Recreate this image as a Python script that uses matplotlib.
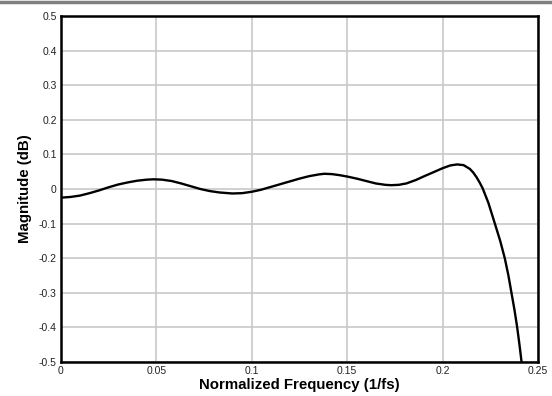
import matplotlib
matplotlib.use("Agg")
import matplotlib.pyplot as plt
from matplotlib.lines import Line2D

# values
freq = [0.0, 0.005, 0.01, 0.015, 0.02, 0.025, 0.03, 0.035, 0.04, 0.045,
        0.0486, 0.053, 0.058, 0.063, 0.068, 0.073, 0.078, 0.083, 0.0898, 0.095,
        0.1, 0.105, 0.11, 0.115, 0.12, 0.125, 0.13, 0.135, 0.138, 0.142,
        0.146, 0.15, 0.155, 0.16, 0.165, 0.17, 0.173, 0.177, 0.181, 0.186,
        0.19, 0.195, 0.2, 0.204, 0.2076, 0.211, 0.2143, 0.216, 0.2178, 0.2195,
        0.221, 0.224, 0.2274, 0.2302, 0.2326, 0.2345, 0.2361, 0.2377, 0.2391, 0.2403,
        0.2414]
mag_db = [-0.025, -0.023, -0.019, -0.012, -0.004, 0.005, 0.013, 0.019, 0.024, 0.027,
          0.028, 0.027, 0.023, 0.016, 0.008, 0.0, -0.006, -0.010, -0.013, -0.012,
          -0.008, -0.002, 0.006, 0.014, 0.022, 0.030, 0.037, 0.042, 0.044, 0.043,
          0.040, 0.036, 0.030, 0.023, 0.016, 0.012, 0.011, 0.012, 0.016, 0.026,
          0.036, 0.048, 0.060, 0.068, 0.071, 0.069, 0.058, 0.048, 0.034, 0.018,
          0.002, -0.040, -0.1, -0.15, -0.2, -0.25, -0.3, -0.35, -0.4, -0.45,
          -0.5]

x_ticks = [0, 0.05, 0.1, 0.15, 0.2, 0.25]
x_tick_labels = ["0", "0.05", "0.1", "0.15", "0.2", "0.25"]
y_ticks = [-0.5, -0.4, -0.3, -0.2, -0.1, 0, 0.1, 0.2, 0.3, 0.4, 0.5]
y_tick_labels = ["-0.5", "-0.4", "-0.3", "-0.2", "-0.1", "0",
                 "0.1", "0.2", "0.3", "0.4", "0.5"]

plt.rcParams["font.family"] = ["Liberation Sans", "DejaVu Sans"]

fig = plt.figure(figsize=(5.52, 3.96), dpi=100)
ax = fig.add_axes([0.1105, 0.0859, 0.8641, 0.8737])

ax.plot(freq, mag_db, color="black", lw=1.7, zorder=3,
        solid_joinstyle="round", solid_capstyle="round")

ax.set_xlim(0, 0.25)
ax.set_ylim(-0.5, 0.5)
ax.set_xticks(x_ticks)
ax.set_xticklabels(x_tick_labels)
ax.set_yticks(y_ticks)
ax.set_yticklabels(y_tick_labels)
ax.tick_params(length=0, labelsize=7.5, colors="#222222", pad=3)
ax.grid(True, color="#c8c8c8", lw=1.2)
for s in ax.spines.values():
    s.set_linewidth(1.8)
    s.set_color("black")

ax.set_xlabel("Normalized Frequency (1/fs)", fontsize=10.8, fontweight="bold", labelpad=1)
ax.set_ylabel("Magnitude (dB)", fontsize=10.8, fontweight="bold", labelpad=5)

# thin gray rule at the top of the image
fig.add_artist(Line2D([0, 1], [0.996, 0.996], color="#808080", lw=2.5,
                      transform=fig.transFigure))

fig.savefig("out.png", dpi=100)
